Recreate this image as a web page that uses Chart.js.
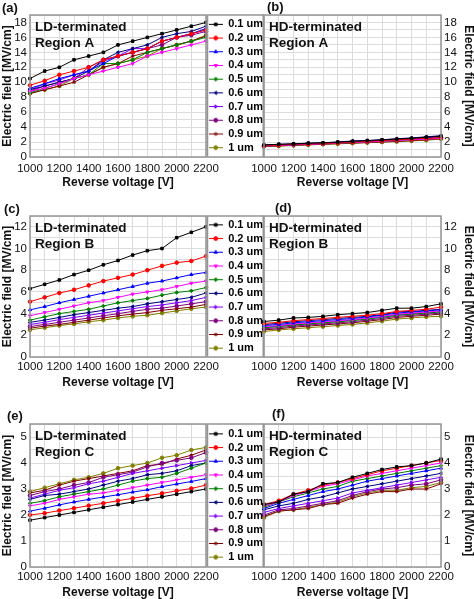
<!DOCTYPE html>
<html>
<head>
<meta charset="utf-8">
<script src="https://cdn.jsdelivr.net/npm/chart.js@4.4.1/dist/chart.umd.min.js"></script>
<style>
  html, body { margin: 0; padding: 0; background: #fff; width: 474px; height: 599px; overflow: hidden; }
  canvas { position: absolute; }
</style>
</head>
<body>
<canvas id="panel-a"></canvas>
<canvas id="panel-b"></canvas>
<canvas id="panel-c"></canvas>
<canvas id="panel-d"></canvas>
<canvas id="panel-e"></canvas>
<canvas id="panel-f"></canvas>
<script>
const voltages = [1000, 1100, 1200, 1300, 1400, 1500, 1600, 1700, 1800, 1900, 2000, 2100, 2200];
const thicknesses = ["0.1 um", "0.2 um", "0.3 um", "0.4 um", "0.5 um", "0.6 um", "0.7 um", "0.8 um", "0.9 um", "1 um"];
const seriesColors = ["#000000", "#ff0000", "#0000ff", "#ff00ff", "#008000", "#000080", "#8000ff", "#800080", "#800000", "#808000"];
const markerStyles = ["rect", "circle", "triangle", "triangle", "rectRot", "triangle", "triangle", "circle", "star", "circle"];
const markerRotations = [0, 0, 0, 180, 0, 270, 90, 0, 0, 0];

const fieldTitle = "Electric field [MV/cm]";
const voltageTitle = "Reverse voltage [V]";

// (a) LD-terminated, region A  - one row per thickness
const ldRegionA = [
  [10.5, 11.5, 12, 13, 13.5, 14, 15, 15.5, 16, 16.5, 17, 17.5, 18],
  [9.6, 10.2, 11, 11.5, 12, 13, 13.5, 14, 14.5, 15.5, 16, 16.5, 17],
  [9.2, 9.8, 10.5, 11, 11.5, 12.5, 13.5, 14, 14.5, 15.5, 16, 16.5, 17.2],
  [8.8, 9.2, 9.8, 10.5, 11, 11.5, 12, 12.5, 13.5, 14, 14.5, 15, 15.5],
  [8.6, 9.2, 9.8, 10.5, 11, 12.5, 12.5, 13, 14, 14.5, 15, 15.5, 16],
  [9, 9.5, 10, 10.5, 11.5, 13, 14, 14.5, 15, 16, 16.5, 16.8, 17.5],
  [9, 9.8, 10.3, 11, 11.5, 12.8, 13.5, 14.5, 14.5, 15.5, 16, 16.5, 17],
  [8.8, 9.5, 10, 10.5, 12, 13, 13.5, 14, 14.5, 15, 16, 16.3, 16.8],
  [8.5, 9, 9.5, 10, 11, 12, 12.5, 13.5, 14, 14.5, 15, 15.5, 16.2],
  [8.5, 9, 9.5, 10.5, 11, 12, 12.5, 13, 13.5, 14.5, 15, 15.5, 16.3]
];
// (b) HD-terminated, region A
const hdRegionA = [
  [1.6, 1.7, 1.75, 1.85, 1.9, 2.0, 2.1, 2.2, 2.3, 2.4, 2.5, 2.65, 2.8],
  [1.5, 1.6, 1.7, 1.75, 1.8, 1.9, 2.0, 2.1, 2.2, 2.3, 2.4, 2.5, 2.6],
  [1.55, 1.65, 1.7, 1.8, 1.85, 1.95, 2.05, 2.15, 2.25, 2.35, 2.45, 2.6, 2.75],
  [1.45, 1.55, 1.6, 1.7, 1.75, 1.85, 1.95, 2.0, 2.1, 2.2, 2.3, 2.4, 2.5],
  [1.45, 1.55, 1.6, 1.7, 1.75, 1.85, 1.9, 2.0, 2.1, 2.2, 2.3, 2.4, 2.5],
  [1.6, 1.7, 1.75, 1.85, 1.9, 2.0, 2.15, 2.2, 2.3, 2.45, 2.55, 2.7, 2.85],
  [1.55, 1.65, 1.7, 1.8, 1.85, 1.95, 2.05, 2.15, 2.25, 2.35, 2.45, 2.55, 2.7],
  [1.5, 1.6, 1.65, 1.75, 1.8, 1.9, 2.0, 2.1, 2.2, 2.3, 2.4, 2.5, 2.65],
  [1.4, 1.5, 1.55, 1.65, 1.7, 1.8, 1.85, 1.95, 2.0, 2.1, 2.2, 2.3, 2.45],
  [1.4, 1.45, 1.55, 1.6, 1.7, 1.75, 1.85, 1.9, 2.0, 2.05, 2.15, 2.25, 2.4]
];
// (c) LD-terminated, region B
const ldRegionB = [
  [6.3, 6.7, 7.1, 7.6, 8.0, 8.5, 8.9, 9.4, 9.8, 10.0, 11.0, 11.5, 12.0],
  [5.1, 5.5, 5.9, 6.2, 6.6, 7.0, 7.3, 7.6, 8.0, 8.4, 8.7, 8.85, 9.3],
  [4.35, 4.65, 5.0, 5.3, 5.6, 5.9, 6.2, 6.5, 6.8, 7.0, 7.3, 7.6, 7.8],
  [3.8, 4.1, 4.4, 4.7, 5.0, 5.2, 5.5, 5.8, 6.0, 6.2, 6.5, 6.8, 7.0],
  [3.4, 3.7, 4.0, 4.2, 4.4, 4.7, 5.0, 5.2, 5.4, 5.7, 5.95, 6.1, 6.4],
  [3.2, 3.4, 3.65, 3.9, 4.1, 4.3, 4.5, 4.65, 4.9, 5.1, 5.3, 5.5, 5.9],
  [3.0, 3.2, 3.45, 3.65, 3.85, 4.05, 4.25, 4.45, 4.65, 4.8, 5.0, 5.2, 5.5],
  [2.8, 3.0, 3.2, 3.4, 3.6, 3.8, 4.0, 4.2, 4.4, 4.5, 4.7, 4.9, 5.1],
  [2.65, 2.85, 3.0, 3.2, 3.4, 3.6, 3.8, 3.95, 4.1, 4.3, 4.45, 4.6, 4.85],
  [2.5, 2.7, 2.9, 3.05, 3.25, 3.4, 3.6, 3.75, 3.85, 4.05, 4.25, 4.45, 4.6]
];
// (d) HD-terminated, region B
const hdRegionB = [
  [3.27, 3.4, 3.6, 3.65, 3.75, 3.9, 4.0, 4.1, 4.3, 4.5, 4.5, 4.65, 4.9],
  [3.1, 3.2, 3.35, 3.45, 3.55, 3.65, 3.75, 3.85, 4.0, 4.2, 4.3, 4.4, 4.6],
  [2.9, 3.0, 3.15, 3.25, 3.35, 3.45, 3.55, 3.7, 3.85, 4.05, 4.15, 4.25, 4.35],
  [2.8, 2.9, 3.05, 3.15, 3.25, 3.35, 3.45, 3.6, 3.75, 3.95, 4.05, 4.15, 4.25],
  [2.7, 2.8, 2.95, 3.05, 3.15, 3.25, 3.35, 3.5, 3.65, 3.85, 3.95, 4.05, 4.15],
  [3.0, 3.1, 3.25, 3.35, 3.45, 3.55, 3.65, 3.75, 3.9, 4.15, 4.2, 4.3, 4.4],
  [2.75, 2.85, 3.0, 3.1, 3.2, 3.3, 3.4, 3.55, 3.7, 3.9, 4.0, 4.1, 4.2],
  [2.6, 2.7, 2.85, 2.95, 3.05, 3.15, 3.25, 3.4, 3.55, 3.75, 3.85, 3.95, 4.05],
  [2.5, 2.6, 2.75, 2.85, 2.95, 3.05, 3.15, 3.3, 3.45, 3.65, 3.75, 3.85, 3.95],
  [2.35, 2.5, 2.6, 2.7, 2.8, 2.9, 3.0, 3.15, 3.3, 3.5, 3.6, 3.7, 3.75]
];
// (e) LD-terminated, region C
const ldRegionC = [
  [1.8, 1.9, 2.0, 2.1, 2.2, 2.3, 2.4, 2.5, 2.6, 2.7, 2.8, 2.9, 3.0],
  [2.0, 2.07, 2.17, 2.26, 2.36, 2.45, 2.55, 2.64, 2.74, 2.83, 2.93, 3.02, 3.15],
  [2.15, 2.26, 2.39, 2.5, 2.6, 2.69, 2.78, 2.88, 2.97, 3.09, 3.19, 3.29, 3.4],
  [2.35, 2.45, 2.6, 2.7, 2.8, 2.85, 2.95, 3.05, 3.15, 3.25, 3.35, 3.45, 3.55],
  [2.45, 2.55, 2.7, 2.8, 2.9, 3.0, 3.15, 3.3, 3.4, 3.45, 3.6, 3.8, 4.0],
  [2.6, 2.75, 2.8, 2.9, 3.0, 3.15, 3.3, 3.4, 3.55, 3.6, 3.7, 3.9, 4.0],
  [2.65, 2.8, 2.95, 3.05, 3.2, 3.3, 3.45, 3.6, 3.7, 3.8, 3.9, 4.0, 4.1],
  [2.75, 2.9, 3.0, 3.15, 3.25, 3.45, 3.55, 3.65, 3.85, 4.0, 4.1, 4.2, 4.4],
  [2.85, 2.95, 3.15, 3.3, 3.4, 3.5, 3.6, 3.7, 3.9, 3.95, 4.15, 4.3, 4.5],
  [2.9, 3.05, 3.2, 3.35, 3.45, 3.6, 3.8, 3.9, 4.0, 4.2, 4.3, 4.5, 4.6]
];
// (f) HD-terminated, region C
const hdRegionC = [
  [2.4, 2.5, 2.8, 2.9, 3.2, 3.25, 3.45, 3.6, 3.75, 3.85, 3.9, 4.0, 4.15],
  [2.4, 2.55, 2.8, 2.95, 3.15, 3.25, 3.4, 3.55, 3.7, 3.8, 3.9, 4.0, 4.1],
  [2.25, 2.45, 2.6, 2.75, 2.9, 3.0, 3.15, 3.3, 3.4, 3.5, 3.6, 3.7, 3.8],
  [2.35, 2.5, 2.75, 2.9, 3.1, 3.2, 3.35, 3.5, 3.6, 3.7, 3.8, 3.9, 4.0],
  [2.3, 2.5, 2.7, 2.85, 3.0, 3.1, 3.3, 3.4, 3.5, 3.6, 3.7, 3.8, 3.9],
  [2.2, 2.35, 2.45, 2.6, 2.7, 2.85, 3.0, 3.1, 3.2, 3.3, 3.4, 3.5, 3.6],
  [2.1, 2.25, 2.35, 2.45, 2.55, 2.65, 2.85, 2.95, 3.05, 3.15, 3.25, 3.35, 3.45],
  [2.0, 2.2, 2.25, 2.35, 2.45, 2.55, 2.75, 2.9, 3.0, 3.05, 3.15, 3.2, 3.35],
  [1.95, 2.15, 2.2, 2.25, 2.4, 2.45, 2.65, 2.8, 2.9, 2.9, 3.0, 3.0, 3.2],
  [1.9, 2.15, 2.2, 2.3, 2.4, 2.5, 2.7, 2.85, 2.95, 2.95, 3.05, 3.1, 3.25]
];

const fontFamily = "Arial, 'Liberation Sans', Helvetica, sans-serif";
Chart.defaults.font.family = fontFamily;
Chart.defaults.color = "#111";

// small "line + marker" pictures for the legend rows
const legendIcons = seriesColors.map((color, i) => {
  const icon = document.createElement("canvas");
  icon.width = 14;
  icon.height = 9;
  const c = icon.getContext("2d");
  c.strokeStyle = color;
  c.fillStyle = color;
  c.lineWidth = 1;
  c.beginPath();
  c.moveTo(0, 4.5);
  c.lineTo(14, 4.5);
  c.stroke();
  Chart.helpers.drawPoint(c, { pointStyle: markerStyles[i], rotation: markerRotations[i], radius: 1.9, borderWidth: 1 }, 7, 4.5);
  return icon;
});

/**
 * Frame round the plot, the legend box, the panel tag and the note inside the plot
 */
const panelDecor = {
  id: "panelDecor",
  afterDraw(chart, args, opts) {
    const { ctx, chartArea: a } = chart;
    ctx.save();
    ctx.strokeStyle = "#959595";
    ctx.lineWidth = 1.5;
    ctx.strokeRect(a.left, a.top, a.right - a.left, a.bottom - a.top);
    if (opts.legendBox) {
      ctx.strokeRect(a.right + 1.5, a.top, chart.width - 0.75 - (a.right + 1.5), a.bottom - a.top);
    }
    ctx.fillStyle = "#111";
    ctx.textBaseline = "middle";
    ctx.font = "bold 13px " + fontFamily;
    ctx.fillText(opts.tag, a.left + opts.tagDx, a.top + opts.tagDy);
    ctx.font = "bold 13.5px " + fontFamily;
    opts.note.forEach((line, k) => ctx.fillText(line, a.left + 5, a.top + 12 + k * 16.5));
    ctx.restore();
  }
};

const onStep = (v, step) => Math.abs(v / step - Math.round(v / step)) < 1e-6;

const panels = [
  { id: "panel-a", tag: "(a)", note: ["LD-terminated", "Region A"], values: ldRegionA, yMax: 19, yMinor: 1, yMajor: 2, side: "left" },
  { id: "panel-b", tag: "(b)", note: ["HD-terminated", "Region A"], values: hdRegionA, yMax: 19, yMinor: 1, yMajor: 2, side: "right" },
  { id: "panel-c", tag: "(c)", note: ["LD-terminated", "Region B"], values: ldRegionB, yMax: 13, yMinor: 1, yMajor: 2, side: "left" },
  { id: "panel-d", tag: "(d)", note: ["HD-terminated", "Region B"], values: hdRegionB, yMax: 13, yMinor: 1, yMajor: 2, side: "right" },
  { id: "panel-e", tag: "(e)", note: ["LD-terminated", "Region C"], values: ldRegionC, yMax: 5.5, yMinor: 0.5, yMajor: 1, side: "left" },
  { id: "panel-f", tag: "(f)", note: ["HD-terminated", "Region C"], values: hdRegionC, yMax: 5.5, yMinor: 0.5, yMajor: 1, side: "right" }
];

// where each canvas sits on the page
const rowTops = [0, 196, 396];
const rowHeights = [192, 196, 206];
const rowPadTop = [15, 20, 28];
const rowTickPad = [5, 3, 3];
const tagOffsets = [[-28, -7], [3, -8], [-26, -7], [11, -8], [-23, -8], [8, -10]];

panels.forEach((p, n) => {
  const row = Math.floor(n / 2);
  const left = p.side === "left";
  const canvas = document.getElementById(p.id);
  canvas.width = left ? 264 : 232;
  canvas.height = rowHeights[row];
  canvas.style.left = (left ? 0 : 244) + "px";
  canvas.style.top = rowTops[row] + "px";

  new Chart(canvas, {
    type: "line",
    plugins: [panelDecor],
    data: {
      datasets: thicknesses.map((t, i) => ({
        label: t,
        data: voltages.map((v, k) => ({ x: v, y: p.values[i][k] })),
        borderColor: seriesColors[i],
        backgroundColor: seriesColors[i],
        borderWidth: 1,
        pointStyle: markerStyles[i],
        pointRotation: markerRotations[i],
        pointRadius: 1.8,
        pointHoverRadius: 1.8,
        pointBorderWidth: 1,
        clip: 6,
      })),
    },
    options: {
      responsive: false,
      animation: false,
      events: [],
      layout: { padding: { top: rowPadTop[row], bottom: 2, left: left ? 0 : 20, right: 0 } },
      scales: {
        x: {
          type: "linear",
          min: 1000,
          max: 2200,
          ticks: {
            stepSize: 100,
            autoSkip: false,
            maxRotation: 0,
            minRotation: 0,
            padding: rowTickPad[row],
            font: { size: 11.5 },
            callback: (v) => (v % 200 === 0 ? String(v) : ""),
          },
          grid: { color: "#dcdcdc", drawTicks: false },
          border: { display: false },
          title: { display: true, text: voltageTitle, font: { size: 12, weight: "bold" }, padding: 0 },
          afterFit: (s) => { s.height = 33; },
        },
        y: {
          type: "linear",
          position: p.side,
          min: 0,
          max: p.yMax,
          ticks: {
            stepSize: p.yMinor,
            autoSkip: false,
            padding: 3,
            font: { size: 11.5 },
            callback: (v) => (onStep(v, p.yMajor) ? String(v) : ""),
          },
          grid: { color: "#dcdcdc", drawTicks: false },
          border: { display: false },
          title: { display: true, text: fieldTitle, font: { size: 12, weight: "bold" }, padding: 0 },
          afterFit: (s) => { s.width = left ? 30 : 35; },
        },
      },
      plugins: {
        tooltip: { enabled: false },
        panelDecor: { tag: p.tag, note: p.note, tagDx: tagOffsets[n][0], tagDy: tagOffsets[n][1], legendBox: left },
        legend: {
          display: left,
          position: "right",
          fullSize: false,
          maxWidth: 58,
          align: "center",
          labels: {
            usePointStyle: true,
            pointStyleWidth: 14,
            boxHeight: 9,
            padding: 2.7,
            color: "#111",
            font: { size: 11, weight: "bold" },
            generateLabels: (chart) => chart.data.datasets.map((ds, i) => ({
              text: ds.label,
              pointStyle: legendIcons[i],
              fillStyle: ds.borderColor,
              strokeStyle: ds.borderColor,
              lineWidth: 1,
              hidden: false,
              datasetIndex: i,
            })),
          },
        },
      },
    },
  });
});
</script>
</body>
</html>
